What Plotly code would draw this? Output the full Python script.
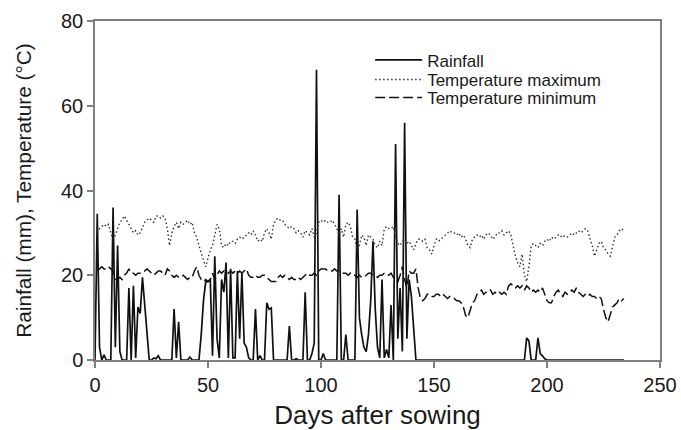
import plotly.graph_objects as go

# Days after sowing
rain_days = list(range(0, 235))
temp_days = list(range(1, 235))

# Daily rainfall (mm), days 0..234
rainfall = [
    0, 34.5, 3, 0, 1.2, 0, 0, 0, 36, 3,
    27, 2, 0, 0, 0, 17, 0, 17.5, 0.5, 12.5,
    11, 19.5, 13, 5, 0, 0, 0.5, 0.3, 1, 0,
    0, 0, 0, 0, 0, 12, 0.5, 9, 0, 0,
    0, 0, 0.7, 0, 0, 0, 0, 6, 14, 18.5,
    18.5, 19, 1, 24.5, 5, 0.5, 19, 16, 23, 0.5,
    21.5, 0.5, 0.5, 21, 5, 20.5, 4, 3, 0.5, 0,
    0, 12, 0, 1, 0, 0, 13.5, 12, 12.3, 0,
    0, 0, 0, 0, 0, 0, 8, 0, 0, 0.3,
    0, 0, 0, 16, 0, 0, 1.5, 4, 68.5, 0,
    0, 1.5, 0, 0, 0, 0, 0, 0, 39, 0,
    0, 6, 0, 0, 0, 0, 35.5, 10, 6, 3,
    2, 6, 14, 28, 12, 3, 0.5, 19, 0.5, 2.5,
    0.5, 13, 0, 51, 5, 17, 2, 56, 5, 19,
    15, 8, 0, 0, 0, 0, 0, 0, 0, 0,
    0, 0, 0, 0, 0, 0, 0, 0, 0, 0,
    0, 0, 0, 0, 0, 0, 0, 0, 0, 0,
    0, 0, 0, 0, 0, 0, 0, 0, 0, 0,
    0, 0, 0, 0, 0, 0, 0, 0, 0, 0,
    0, 5.2, 4.5, 0, 0, 0, 5.2, 1.5, 1, 0.3,
    0, 0, 0, 0, 0, 0, 0, 0, 0, 0,
    0, 0, 0, 0, 0, 0, 0, 0, 0, 0,
    0, 0, 0, 0, 0, 0, 0, 0, 0, 0,
    0, 0, 0, 0, 0,
]

# Daily maximum temperature (°C), days 1..234
temp_max = [
    30, 31, 31.5, 32, 31.5, 32, 30, 28.5, 29.5, 31,
    32.5, 33, 34, 33, 32, 31, 30, 30.5, 29.5, 30,
    31.5, 32.5, 33, 33.5, 33, 32.5, 34, 34, 33.5, 34,
    33.5, 31, 27, 30, 31.5, 32.5, 31, 32.5, 32, 32.5,
    33, 32, 32.5, 30, 29, 27, 25, 23.5, 22, 24,
    26, 27, 30, 32, 31, 27, 26.5, 27.5, 27, 28,
    28, 27.5, 28.5, 29, 28.5, 29, 29.5, 30, 29.5, 30.5,
    29.5, 28, 28.5, 28, 30, 31, 30, 28.5, 32, 33,
    33.5, 33, 33, 32, 31.5, 31, 31.5, 31, 30, 30.5,
    30, 29, 30.5, 30, 29.5, 31, 29, 30, 32.5, 33,
    32.5, 33, 32.5, 32.5, 33, 32, 31, 29.5, 31, 29,
    32, 32.5, 31.5, 29, 28.5, 26, 27, 29.5, 29, 27,
    29.5, 29, 28.5, 27, 26.5, 28, 27, 31, 31.5, 31,
    31, 31.5, 29, 27.5, 27, 28, 28.5, 27.5, 28, 27,
    26, 27.5, 28.5, 28.5, 28, 28.5, 26.5, 26, 25, 27,
    28.5, 28, 28.5, 29, 29.5, 30, 30.5, 30, 30, 29.5,
    30, 29, 29.5, 28.5, 27, 26.5, 28.5, 29, 29.5, 29,
    29.5, 28.5, 29.5, 30, 29.5, 28.5, 29, 30, 30, 30.5,
    29.5, 30, 30.5, 29.5, 26.5, 24.5, 23, 22, 25, 20,
    18.5, 22, 27, 27.5, 27, 26.5, 27.5, 27, 28, 28.5,
    28, 29, 28.5, 29, 29.5, 29, 29.5, 29, 29, 29.5,
    30, 29.5, 30, 30.5, 30, 30.5, 31, 30.5, 29, 27,
    24.5, 26, 27.5, 28, 26.5, 26, 25, 24.5, 27, 29,
    29.5, 30.5, 31, 30.5,
]

# Daily minimum temperature (°C), days 1..234
temp_min = [
    21.5, 21.5, 22, 21.5, 21.5, 22, 21.5, 21, 19, 19,
    19.5, 19, 20, 20.5, 21.5, 20.5, 20.5, 20, 20.5, 20.5,
    20.5, 21, 21.5, 21, 20.5, 20, 20.5, 21, 21, 20.5,
    20, 21.5, 21, 20, 19.5, 20, 19.5, 19.5, 20, 19.5,
    19, 19.5, 19.5, 21, 22, 20, 19, 18.5, 19, 18.5,
    19, 20.5, 19, 20, 21, 20.5, 21, 20.5, 20.5, 21,
    20.5, 21, 20.5, 21, 20.5, 21, 21.5, 20, 19.5, 19.5,
    20, 19.5, 19.5, 20, 20, 19.5, 19, 18.5, 18.5, 18.5,
    19.5, 20, 19.5, 20, 19.5, 19, 19.5, 19, 19, 19.5,
    19, 19.5, 20, 20.5, 20, 20, 20.5, 20, 21, 21.5,
    21.5, 21.5, 21, 21, 21, 21.5, 21, 21, 20.5, 20.5,
    20.5, 20, 20.5, 20, 20, 19.5, 20, 19.5, 19.5, 20,
    20.5, 20.5, 20, 20, 19.5, 20, 20, 20.5, 20.5, 20,
    20.5, 19.5, 19, 18.5, 20, 22, 19, 17, 21, 20.5,
    20.5, 21.5, 17, 14.5, 14, 14.5, 15.5, 15.5, 15, 15,
    15.5, 15.5, 15, 15.5, 15, 14.5, 15, 14.5, 14.5, 14,
    14, 13.5, 12.5, 10.5, 10, 12, 13.5, 14, 15.5, 16,
    16.5, 15.5, 16, 16, 16.5, 15.5, 16, 15.5, 16, 15.5,
    16, 15.5, 17.5, 18, 17.5, 17, 17.5, 17, 17.5, 16.5,
    17.5, 17, 16, 16.5, 16, 16.5, 16, 17, 15.5, 14,
    13.5, 13.5, 15, 16, 16.5, 15.5, 15, 16, 15.5, 16,
    16.5, 16, 17, 16, 15.5, 15, 15.5, 15, 15.5, 15,
    15, 14.5, 15, 14.5, 12, 10, 9, 10.5, 12.5, 13,
    13.5, 14.5, 14, 14.5,
]

x_ticks = [0, 50, 100, 150, 200, 250]
y_ticks = [0, 20, 40, 60, 80]

FONT = "Liberation Sans, Arial, sans-serif"
AXIS_COLOR = "#7f7f7f"
TEXT_COLOR = "#1a1a1a"

fig = go.Figure()
fig.add_trace(go.Scatter(
    x=rain_days, y=rainfall, mode="lines", name="Rainfall",
    line=dict(color="#111111", width=1.7), legend="legend",
))
fig.add_trace(go.Scatter(
    x=temp_days, y=temp_max, mode="lines", name="Temperature maximum",
    line=dict(color="#333333", width=1.4, dash="1.5px,2.5px"), legend="legend2",
))
fig.add_trace(go.Scatter(
    x=temp_days, y=temp_min, mode="lines", name="Temperature minimum",
    line=dict(color="#111111", width=1.5, dash="10px,4px"), legend="legend3",
))

def legend_box(ytop):
    return dict(
        x=0.487, y=ytop, xanchor="left", yanchor="top",
        bgcolor="rgba(0,0,0,0)", borderwidth=0,
        font=dict(family=FONT, size=17, color=TEXT_COLOR),
        itemwidth=47,
    )

fig.update_layout(
    width=681, height=430,
    margin=dict(l=95, r=21, t=21, b=70, autoexpand=False),
    paper_bgcolor="white", plot_bgcolor="white",
    font=dict(family=FONT, color=TEXT_COLOR),
    showlegend=True,
    legend=legend_box(0.937),
    legend2=legend_box(0.879),
    legend3=legend_box(0.826),
    xaxis=dict(
        range=[0, 250], tickvals=x_ticks, ticktext=[str(v) for v in x_ticks],
        showgrid=False, zeroline=False, automargin=False,
        showline=True, linecolor=AXIS_COLOR, linewidth=1.5, mirror=True,
        ticks="outside", ticklen=6, tickwidth=1.5, tickcolor=AXIS_COLOR,
        tickfont=dict(family=FONT, size=20, color=TEXT_COLOR),
        title=dict(text="Days after sowing", font=dict(family=FONT, size=26, color=TEXT_COLOR), standoff=15),
    ),
    yaxis=dict(
        range=[0, 80], tickvals=y_ticks, ticktext=[str(v) for v in y_ticks],
        showgrid=False, zeroline=False, automargin=False,
        showline=True, linecolor=AXIS_COLOR, linewidth=1.5, mirror=True,
        ticks="outside", ticklen=6, tickwidth=1.5, tickcolor=AXIS_COLOR,
        tickfont=dict(family=FONT, size=20, color=TEXT_COLOR),
        title=dict(text="Rainfall (mm), Temperature (°C)", font=dict(family=FONT, size=20.8, color=TEXT_COLOR), standoff=24),
    ),
)

fig.write_html("out.html")
